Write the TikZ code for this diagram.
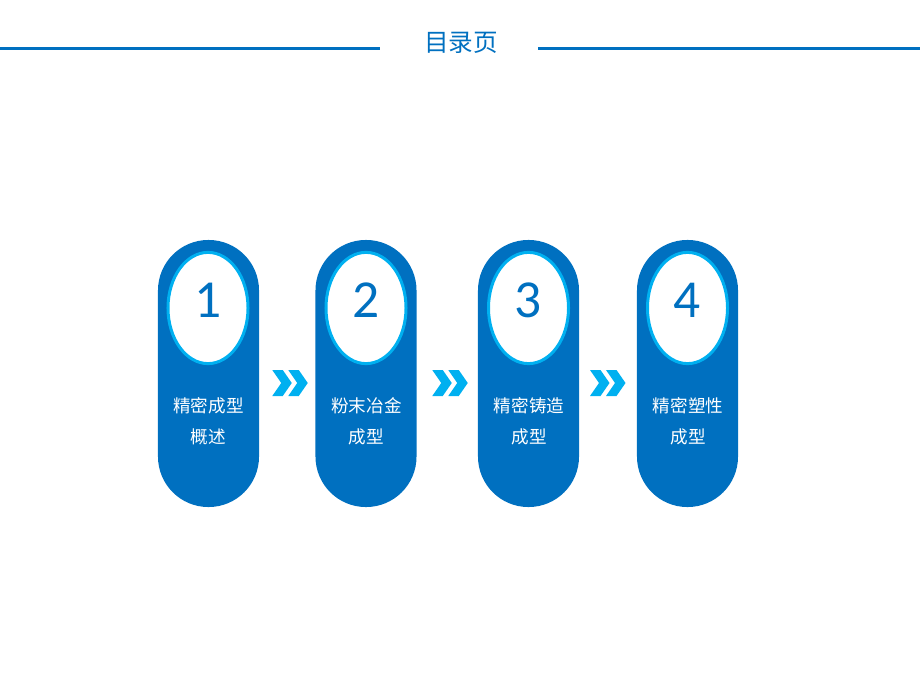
\documentclass[tikz,border=0pt]{standalone}
\usepackage{fontspec}
\usepackage{tikz}
\usetikzlibrary{calc,shapes.geometric}
\newfontfamily\cjk{Noto Sans CJK SC}
\newfontfamily\digits{Carlito}
\definecolor{tocblue}{HTML}{0070C0}
\definecolor{tocsky}{HTML}{00B0F0}
\def\chevrons(#1){\fill[chev] ($(#1)+(-18,-13)$) -- ++(10.5,0) -- ++(9,13) -- ++(-9,13) -- ++(-10.5,0) -- ++(9,-13) -- cycle;
	\fill[chev] ($(#1)+(-2,-13)$) -- ++(10.5,0) -- ++(9,13) -- ++(-9,13) -- ++(-10.5,0) -- ++(9,-13) -- cycle;}
\tikzset{
	pill/.style={fill=tocblue, inner sep=0pt, minimum width=2.525cm, minimum height=6.675cm, rounded corners=1.26cm},
	disc/.style={ellipse, fill=white, draw=tocsky, line width=0.075cm, inner sep=0pt, minimum width=2.0cm, minimum height=2.78cm},
	numlabel/.style={text=tocblue, font=\digits\fontsize{38}{40}\selectfont},
	steplabel/.style={text=white, align=center, font=\cjk\fontsize{12.5}{22}\selectfont},
	chev/.style={tocsky},
	rule/.style={tocblue, line width=0.075cm}
}
\begin{document}
\begin{tikzpicture}[x=0.025cm, y=-0.025cm]
			%%%%% START %%%%%
			\useasboundingbox[fill=white] (0, 0) rectangle (920, 690);
			
			\node[text=tocblue, font=\cjk\fontsize{17.5}{20}\selectfont] (title) at (461, 43) {目录页};
			\coordinate (l0) at (0, 48.5);
			\coordinate (l1) at (380, 48.5);
			\coordinate (r0) at (538, 48.5);
			\coordinate (r1) at (920, 48.5);
			\draw[rule] (l0) -- (l1);
			\draw[rule] (r0) -- (r1);
			
			\node[pill] (p1) at (208.5, 373.5) {};
			\node[disc] (d1) at (208, 308) {};
			\node[numlabel] (n1) at (208, 300) {1};
			\node[steplabel] (t1) at (208.5, 421) {精密成型\\概述};
			
			\node[pill] (p2) at (366, 373.5) {};
			\node[disc] (d2) at (366, 308) {};
			\node[numlabel] (n2) at (366, 300) {2};
			\node[steplabel] (t2) at (366.5, 421) {粉末冶金\\成型};
			
			\node[pill] (p3) at (528.5, 373.5) {};
			\node[disc] (d3) at (528.5, 308) {};
			\node[numlabel] (n3) at (528.5, 300) {3};
			\node[steplabel] (t3) at (529, 421) {精密铸造\\成型};
			
			\node[pill] (p4) at (687.5, 373.5) {};
			\node[disc] (d4) at (687.5, 308) {};
			\node[numlabel] (n4) at (687.5, 300) {4};
			\node[steplabel] (t4) at (688, 421) {精密塑性\\成型};
			
			\coordinate (a1) at ($(p1.east)!0.5!(p2.west)+(3, 9.5)$);
			\coordinate (a2) at ($(p2.east)!0.5!(p3.west)+(3, 9.5)$);
			\coordinate (a3) at ($(p3.east)!0.5!(p4.west)+(0, 9.5)$);
			\chevrons(a1)
			\chevrons(a2)
			\chevrons(a3)
			
			%%%%% END %%%%%
		\end{tikzpicture}
\end{document}
